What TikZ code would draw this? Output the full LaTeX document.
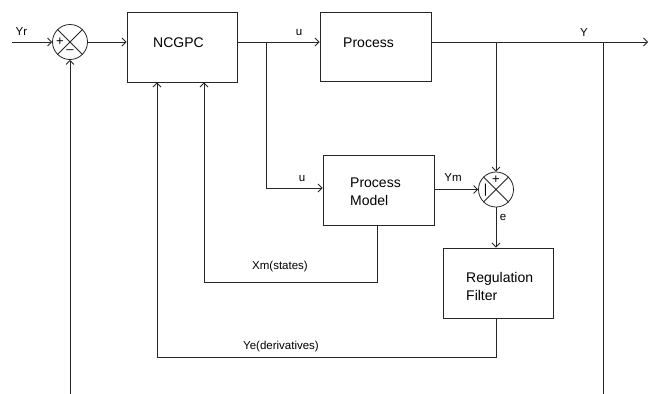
\documentclass[tikz,border=0pt]{standalone}
\usepackage{fontspec}
\setmainfont{Liberation Sans}
\usetikzlibrary{arrows.meta}
\begin{document}
\begin{tikzpicture}[x=1pt,y=-1pt,
  wire/.style={line width=0.8pt,draw=black!85},
  arr/.style={wire,-{Straight Barb[length=4pt,width=8pt]}},
  blockbox/.style={draw=black!85,line width=0.9pt,inner sep=0pt},
  sumnode/.style={draw=black!85,line width=0.8pt,circle,inner sep=0pt,minimum size=35pt},
  boxtext/.style={font=\fontsize{14}{18}\selectfont,inner sep=0pt},
  lbl/.style={font=\fontsize{11.5}{13}\selectfont,inner sep=0pt},
  sign/.style={font=\fontsize{13}{14}\selectfont,inner sep=0pt}]
\useasboundingbox (0,0) rectangle (654,394);
\fill[white] (0,0) rectangle (654,394);

% blocks
\node[blockbox,minimum width=110pt,minimum height=70pt] (ncgpc) at (182,47) {};
\node[boxtext] (ncgpct) at (178.5,42.5) {NCGPC};
\node[blockbox,minimum width=111pt,minimum height=69pt] (proc) at (375.5,46.5) {};
\node[boxtext] (proct) at (368.5,43) {Process};
\node[blockbox,minimum width=111pt,minimum height=70pt] (model) at (378.5,190) {};
\node[boxtext,align=left,anchor=west] (modelt) at (350,192) {Process\\Model};
\node[blockbox,minimum width=110pt,minimum height=70pt] (filt) at (498,283) {};
\node[boxtext,align=left,anchor=west] (filtt) at (466,286) {Regulation\\Filter};

% summing junctions
\node[sumnode] (s1) at (70,42) {};
\draw[wire] (s1.45) -- (s1.225) (s1.135) -- (s1.315);
\node[sign] (s1p) at (60,42) {+};
\node[sign] (s1m) at (70,52) {–};
\node[sumnode] (s2) at (496,189.5) {};
\draw[wire] (s2.45) -- (s2.225) (s2.135) -- (s2.315);
\node[sign] (s2p) at (496,180) {+};
\node[sign] (s2m) at (485.5,190) {|};

% coordinates
\coordinate (yin) at (12,42);
\coordinate (j1) at (266,42);
\coordinate (j2) at (496,42);
\coordinate (j3) at (603,42);
\coordinate (yout) at (648,42);
\coordinate (fb1) at (70,394);
\coordinate (fb2) at (603,394);
\coordinate (ucorner) at (266,188);
\coordinate (xm1) at (377,282);
\coordinate (xm2) at (204,282);
\coordinate (ye1) at (496,357);
\coordinate (ye2) at (157,357);

% connectors
\draw[arr] (yin) -- (s1.west);
\draw[arr] (s1.east) -- (ncgpc.west |- s1.east);
\draw[arr] (ncgpc.east |- j1) -- (proc.west |- j1);
\draw[arr] (proc.east |- j2) -- (yout);
\draw[wire] (j3) -- (fb2);
\draw[arr] (fb1) -- (s1.south);
\draw[arr] (j2) -- (s2.north);
\draw[arr] (j1) -- (ucorner) -- (model.west |- ucorner);
\draw[arr] (model.east |- s2.west) -- (s2.west);
\draw[arr] (s2.south) -- (filt.north -| s2.south);
\draw[arr] (model.south -| xm1) -- (xm1) -- (xm2) -- (ncgpc.south -| xm2);
\draw[arr] (filt.south -| ye1) -- (ye1) -- (ye2) -- (ncgpc.south -| ye2);

% labels
\node[lbl] (lyr) at (21.5,32) {Yr};
\node[lbl] (lu1) at (299,33) {u};
\node[lbl] (ly) at (584,33) {Y};
\node[lbl] (lu2) at (302,179) {u};
\node[lbl] (lym) at (453,178) {Ym};
\node[lbl] (le) at (503,217) {e};
\node[lbl] (lxm) at (280,267) {Xm(states)};
\node[lbl] (lye) at (281,347) {Ye(derivatives)};
\end{tikzpicture}
\end{document}
